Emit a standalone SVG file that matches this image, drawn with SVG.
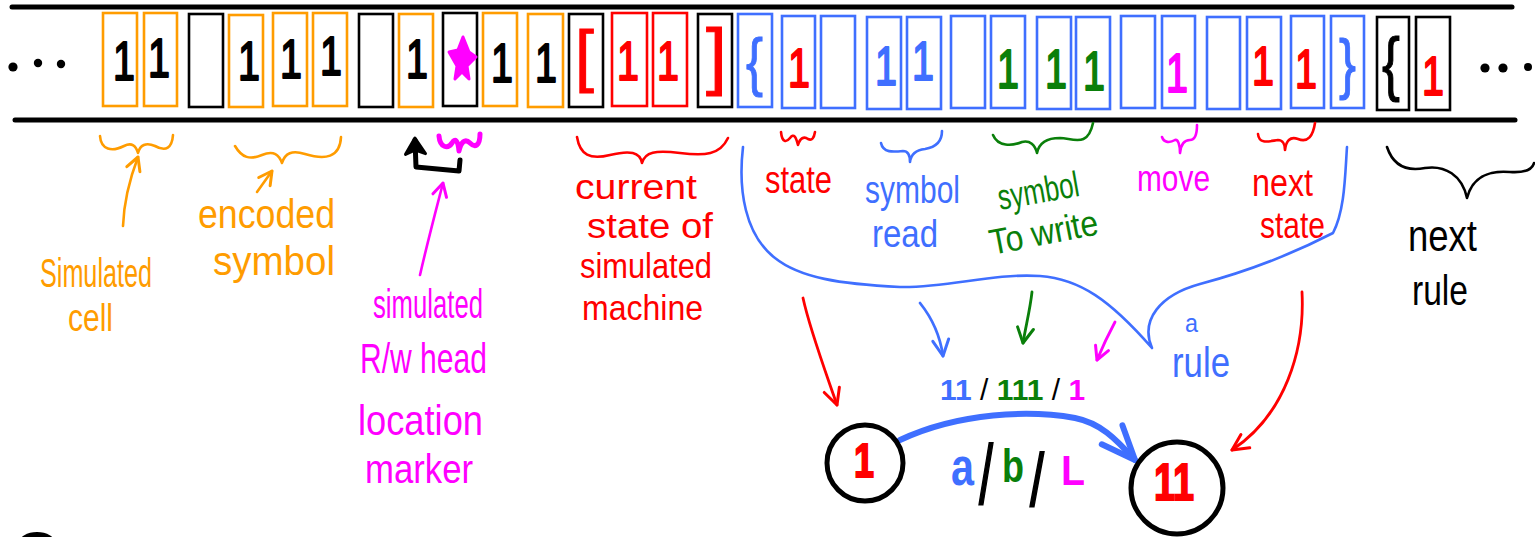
<svg xmlns="http://www.w3.org/2000/svg" width="1535" height="537" viewBox="0 0 1535 537">
<style>
.cell{fill:none;stroke-width:2.6}
.so{stroke:#ff9c00}.sk{stroke:#000}.sr{stroke:#ff0000}.sb{stroke:#3f6fff}.sg{stroke:#0a7f0a}.sm{stroke:#ff00ff}
.fo{fill:#ff9c00}.fk{fill:#000}.fr{fill:#ff0000}.fb{fill:#3f6fff}.fg{fill:#0a7f0a}.fm{fill:#ff00ff}
.dg{font-family:"Liberation Sans",Arial,sans-serif;font-size:56px;text-anchor:middle;stroke-width:2;stroke-linejoin:round}
.br{font-family:"Liberation Sans",Arial,sans-serif;stroke-width:1}
.hw{font-family:"Liberation Sans",Arial,sans-serif}
.ty{font-family:"Liberation Sans",Arial,sans-serif;font-weight:bold}
.ln{fill:none;stroke-linecap:round;stroke-linejoin:round}
</style>
<defs>
<marker id="ah-o" markerUnits="userSpaceOnUse" viewBox="-20 -20 40 40" markerWidth="40" markerHeight="40" refX="0" refY="0" orient="auto" overflow="visible"><path d="M-13,-7 L0,0 L-13,7" fill="none" stroke="#ff9c00" stroke-width="3" stroke-linecap="round" stroke-linejoin="round"/></marker>
<marker id="ah-m" markerUnits="userSpaceOnUse" viewBox="-20 -20 40 40" markerWidth="40" markerHeight="40" refX="0" refY="0" orient="auto" overflow="visible"><path d="M-13,-7 L0,0 L-13,7" fill="none" stroke="#ff00ff" stroke-width="3" stroke-linecap="round" stroke-linejoin="round"/></marker>
<marker id="ah-r" markerUnits="userSpaceOnUse" viewBox="-20 -20 40 40" markerWidth="40" markerHeight="40" refX="0" refY="0" orient="auto" overflow="visible"><path d="M-16,-8 L0,0 L-16,8" fill="none" stroke="#ff0000" stroke-width="3" stroke-linecap="round" stroke-linejoin="round"/></marker>
<marker id="ah-b" markerUnits="userSpaceOnUse" viewBox="-20 -20 40 40" markerWidth="40" markerHeight="40" refX="0" refY="0" orient="auto" overflow="visible"><path d="M-16,-8 L0,0 L-16,8" fill="none" stroke="#3f6fff" stroke-width="3" stroke-linecap="round" stroke-linejoin="round"/></marker>
<marker id="ah-g" markerUnits="userSpaceOnUse" viewBox="-20 -20 40 40" markerWidth="40" markerHeight="40" refX="0" refY="0" orient="auto" overflow="visible"><path d="M-15,-8 L0,0 L-15,8" fill="none" stroke="#0a7f0a" stroke-width="3" stroke-linecap="round" stroke-linejoin="round"/></marker>
<marker id="ah-bb" markerUnits="userSpaceOnUse" viewBox="-40 -40 80 80" markerWidth="80" markerHeight="80" refX="0" refY="0" orient="auto" overflow="visible"><path d="M-34,-14 L0,0 L-34,14" fill="none" stroke="#3f6fff" stroke-width="6" stroke-linecap="round" stroke-linejoin="round"/></marker>
<marker id="ah-k" markerUnits="userSpaceOnUse" viewBox="-20 -20 40 40" markerWidth="40" markerHeight="40" refX="0" refY="0" orient="auto" overflow="visible"><path d="M-14,-10 L2,0 L-14,10 L-10,0 Z" fill="#000" stroke="#000" stroke-width="3" stroke-linejoin="round"/></marker>
</defs>
<rect width="1535" height="537" fill="#fff"/>

<g id="tape">
<line x1="12" y1="7" x2="1512" y2="7" stroke="#000" stroke-width="5" stroke-linecap="round"/>
<line x1="15" y1="120" x2="1515" y2="120" stroke="#000" stroke-width="5" stroke-linecap="round"/>
<circle cx="13" cy="67" r="4.6" fill="#000"/><circle cx="38" cy="63" r="4.2" fill="#000"/><circle cx="61" cy="64" r="4.2" fill="#000"/>
<circle cx="1485" cy="68" r="4.6" fill="#000"/><circle cx="1503" cy="68" r="4.6" fill="#000"/><circle cx="1528" cy="67" r="4" fill="#000"/>
</g>

<g id="cell-01"><rect class="cell so" x="103" y="13" width="34" height="93"/><text class="dg fk sk" x="124" y="80" textLength="22" lengthAdjust="spacingAndGlyphs">1</text></g>
<g id="cell-02"><rect class="cell so" x="144" y="13" width="33" height="93"/><text class="dg fk sk" x="159" y="77" textLength="22" lengthAdjust="spacingAndGlyphs">1</text></g>
<g id="cell-03"><rect class="cell sk" x="189" y="14" width="34" height="93"/></g>
<g id="cell-04"><rect class="cell so" x="229" y="15" width="34" height="92"/><text class="dg fk sk" x="249" y="80" textLength="22" lengthAdjust="spacingAndGlyphs">1</text></g>
<g id="cell-05"><rect class="cell so" x="273" y="13" width="34" height="93"/><text class="dg fk sk" x="291" y="78" textLength="22" lengthAdjust="spacingAndGlyphs">1</text></g>
<g id="cell-06"><rect class="cell so" x="313" y="13" width="34" height="93"/><text class="dg fk sk" x="331" y="75" textLength="22" lengthAdjust="spacingAndGlyphs">1</text></g>
<g id="cell-07"><rect class="cell sk" x="359" y="14" width="34" height="93"/></g>
<g id="cell-08"><rect class="cell so" x="399" y="14" width="34" height="93"/><text class="dg fk sk" x="417" y="78" textLength="22" lengthAdjust="spacingAndGlyphs">1</text></g>
<g id="cell-09"><rect class="cell sk" x="443" y="13" width="34" height="93"/><polygon points="463,37 469,52 476,57 467,66 469,79 462,72 455,79 457,66 449,52 458,50" fill="#ff00ff" stroke="#ff00ff" stroke-width="3" stroke-linejoin="round"/></g>
<g id="cell-10"><rect class="cell so" x="483" y="13" width="34" height="93"/><text class="dg fk sk" x="502" y="82" textLength="22" lengthAdjust="spacingAndGlyphs">1</text></g>
<g id="cell-11"><rect class="cell so" x="528" y="14" width="35" height="93"/><text class="dg fk sk" x="546" y="82" textLength="22" lengthAdjust="spacingAndGlyphs">1</text></g>
<g id="cell-12"><rect class="cell sk" x="569" y="14" width="34" height="93"/><text class="br fr sr" x="575" y="79" font-size="68">[</text></g>
<g id="cell-13"><rect class="cell sr" x="612" y="13" width="35" height="93"/><text class="dg fr sr" x="628" y="80" textLength="22" lengthAdjust="spacingAndGlyphs">1</text></g>
<g id="cell-14"><rect class="cell sr" x="653" y="13" width="34" height="93"/><text class="dg fr sr" x="668" y="80" textLength="22" lengthAdjust="spacingAndGlyphs">1</text></g>
<g id="cell-15"><rect class="cell sk" x="698" y="14" width="34" height="93"/><text class="br fr sr" x="706" y="81" font-size="75">]</text></g>
<g id="cell-16"><rect class="cell sb" x="738" y="14" width="34" height="93"/><text class="br fb sb" x="746" y="84" font-size="65" textLength="17" lengthAdjust="spacingAndGlyphs">{</text></g>
<g id="cell-17"><rect class="cell sb" x="782" y="16" width="33" height="92"/><text class="dg fr sr" x="799" y="87" textLength="22" lengthAdjust="spacingAndGlyphs">1</text></g>
<g id="cell-18"><rect class="cell sb" x="821" y="16" width="34" height="92"/></g>
<g id="cell-19"><rect class="cell sb" x="867" y="17" width="34" height="92"/><text class="dg fb sb" x="886" y="85" textLength="22" lengthAdjust="spacingAndGlyphs">1</text></g>
<g id="cell-20"><rect class="cell sb" x="907" y="17" width="34" height="92"/><text class="dg fb sb" x="923" y="80" textLength="22" lengthAdjust="spacingAndGlyphs">1</text></g>
<g id="cell-21"><rect class="cell sb" x="951" y="16" width="34" height="92"/></g>
<g id="cell-22"><rect class="cell sb" x="991" y="16" width="34" height="92"/><text class="dg fg sg" x="1008" y="88" textLength="22" lengthAdjust="spacingAndGlyphs">1</text></g>
<g id="cell-23"><rect class="cell sb" x="1037" y="17" width="34" height="92"/><text class="dg fg sg" x="1056" y="88" textLength="22" lengthAdjust="spacingAndGlyphs">1</text></g>
<g id="cell-24"><rect class="cell sb" x="1076" y="17" width="34" height="92"/><text class="dg fg sg" x="1094" y="90" textLength="22" lengthAdjust="spacingAndGlyphs">1</text></g>
<g id="cell-25"><rect class="cell sb" x="1121" y="16" width="34" height="92"/></g>
<g id="cell-26"><rect class="cell sb" x="1162" y="16" width="33" height="92"/><text class="dg fm sm" x="1177" y="92" textLength="22" lengthAdjust="spacingAndGlyphs">1</text></g>
<g id="cell-27"><rect class="cell sb" x="1207" y="17" width="33" height="92"/></g>
<g id="cell-28"><rect class="cell sb" x="1247" y="17" width="34" height="92"/><text class="dg fr sr" x="1263" y="85" textLength="22" lengthAdjust="spacingAndGlyphs">1</text></g>
<g id="cell-29"><rect class="cell sb" x="1291" y="16" width="33" height="92"/><text class="dg fr sr" x="1306" y="88" textLength="22" lengthAdjust="spacingAndGlyphs">1</text></g>
<g id="cell-30"><rect class="cell sb" x="1331" y="16" width="33" height="92"/><text class="br fb sb" x="1339" y="86" font-size="66" textLength="17" lengthAdjust="spacingAndGlyphs">}</text></g>
<g id="cell-31"><rect class="cell sk" x="1377" y="17" width="32" height="93"/><text class="br fk sk" x="1382" y="87" font-size="71" textLength="18" lengthAdjust="spacingAndGlyphs">{</text></g>
<g id="cell-32"><rect class="cell sk" x="1416" y="17" width="34" height="93"/><text class="dg fr sr" x="1433" y="95" textLength="22" lengthAdjust="spacingAndGlyphs">1</text></g>

<g id="connectors">
<path class="ln so" stroke-width="2.6" d="M100,136 C101,150 112,152 124,146 C132,142 136,146 138,153 C140,145 146,142 155,146 C166,152 172,148 173,135"/>
<path class="ln so" stroke-width="2.6" d="M235,146 C242,158 250,160 262,155 C274,150 279,155 282,163 C285,153 292,150 305,154 C325,160 340,158 341,137"/>
<path class="ln so" stroke-width="2.6" d="M123,226 C124,200 130,178 138,157" marker-end="url(#ah-o)"/>
<path class="ln so" stroke-width="2.6" d="M257,192 L272,171" marker-end="url(#ah-o)"/>
<path class="ln sm" stroke-width="5" d="M439,136 C440,148 448,149 452,143 C455,138 458,140 459,151 C461,142 465,138 470,143 C475,148 480,146 480,134"/>
<path class="ln sm" stroke-width="2.6" d="M420,275 C428,240 436,210 443,183" marker-end="url(#ah-m)"/>
<path class="ln sk" stroke-width="5" d="M460,160 L459,171 L416,167 L415,140" marker-end="url(#ah-k)"/>
<path class="ln sr" stroke-width="2.6" d="M577,137 C580,155 590,160 610,155 C630,150 640,152 642,163 C645,152 655,150 680,153 C705,156 720,155 728,138"/>
<path class="ln sr" stroke-width="2.6" d="M781,132 C782,142 786,143 790,138 C794,133 796,137 798,145 C800,138 804,136 808,139 C812,141 814,138 815,132"/>
<path class="ln sb" stroke-width="2.6" d="M881,143 C883,153 893,152 903,151 C908,151 910,155 910,162 C911,154 916,150 925,149 C937,147 942,140 942,131"/>
<path class="ln sg" stroke-width="2.6" d="M993,135 C998,147 1012,146 1022,142 C1030,140 1035,145 1037,153 C1039,143 1046,138 1060,138 C1075,139 1088,147 1093,123"/>
<path class="ln sm" stroke-width="2.6" d="M1162,137 C1164,143 1170,143 1175,140 C1178,139 1180,145 1180,153 C1181,143 1185,140 1190,140 C1196,140 1197,133 1197,125"/>
<path class="ln sr" stroke-width="2.6" d="M1258,134 C1259,145 1270,141 1278,140 C1283,140 1285,145 1285,150 C1286,141 1290,136 1298,139 C1308,143 1313,136 1315,123"/>
<path class="ln sk" stroke-width="2.6" d="M1387,147 C1393,165 1405,172 1425,168 C1445,165 1462,175 1467,198 C1472,178 1488,170 1510,172 C1525,173 1532,170 1534,163"/>
<path class="ln sb" stroke-width="2.6" d="M743,147 C738,190 745,235 775,258 C800,278 840,284 900,287 C950,288 990,273 1040,276 C1080,279 1110,300 1152,348 C1140,320 1160,295 1200,284 C1260,268 1300,250 1333,233 C1345,210 1345,175 1347,147"/>
<path class="ln sr" stroke-width="2.8" d="M803,298 C810,330 825,370 837,405" marker-end="url(#ah-r)"/>
<path class="ln sb" stroke-width="2.8" d="M920,303 C932,318 940,335 943,356" marker-end="url(#ah-b)"/>
<path class="ln sg" stroke-width="2.8" d="M1032,292 C1030,310 1026,325 1023,343" marker-end="url(#ah-g)"/>
<path class="ln sm" stroke-width="2.8" d="M1115,322 C1108,335 1102,348 1097,360" marker-end="url(#ah-m)"/>
<path class="ln sr" stroke-width="2.8" d="M1302,292 C1305,350 1285,415 1232,450" marker-end="url(#ah-r)"/>
<path class="ln sb" stroke-width="6" d="M900,440 C960,412 1030,410 1075,418 C1100,423 1115,438 1135,460" marker-end="url(#ah-bb)"/>
</g>

<g id="label-simulated-cell" class="hw fo">
<text x="40" y="287" font-size="40" textLength="112" lengthAdjust="spacingAndGlyphs">Simulated</text>
<text x="68" y="331" font-size="38" textLength="45" lengthAdjust="spacingAndGlyphs">cell</text>
</g>
<g id="label-encoded-symbol" class="hw fo">
<text x="198" y="228" font-size="40" textLength="137" lengthAdjust="spacingAndGlyphs">encoded</text>
<text x="213" y="275" font-size="40" textLength="122" lengthAdjust="spacingAndGlyphs">symbol</text>
</g>
<g id="label-head-marker" class="hw fm">
<text x="373" y="318" font-size="40" textLength="110" lengthAdjust="spacingAndGlyphs">simulated</text>
<text x="360" y="373" font-size="42" textLength="127" lengthAdjust="spacingAndGlyphs">R/w head</text>
<text x="358" y="435" font-size="42" textLength="125" lengthAdjust="spacingAndGlyphs">location</text>
<text x="365" y="483" font-size="40" textLength="108" lengthAdjust="spacingAndGlyphs">marker</text>
</g>
<g id="label-current-state" class="hw fr">
<text x="575" y="199" font-size="35" textLength="122" lengthAdjust="spacingAndGlyphs">current</text>
<text x="587" y="238" font-size="35" textLength="126" lengthAdjust="spacingAndGlyphs">state of</text>
<text x="580" y="278" font-size="35" textLength="132" lengthAdjust="spacingAndGlyphs">simulated</text>
<text x="582" y="320" font-size="35" textLength="121" lengthAdjust="spacingAndGlyphs">machine</text>
</g>
<g id="label-state" class="hw fr"><text x="765" y="193" font-size="38" textLength="67" lengthAdjust="spacingAndGlyphs">state</text></g>
<g id="label-symbol-read" class="hw fb">
<text x="865" y="203" font-size="38" textLength="95" lengthAdjust="spacingAndGlyphs">symbol</text>
<text x="872" y="247" font-size="38" textLength="66" lengthAdjust="spacingAndGlyphs">read</text>
</g>
<g id="label-symbol-write" class="hw fg">
<text x="1000" y="210" font-size="36" textLength="82" lengthAdjust="spacingAndGlyphs" transform="rotate(-10 1000 210)">symbol</text>
<text x="992" y="255" font-size="36" textLength="110" lengthAdjust="spacingAndGlyphs" transform="rotate(-11 992 255)">To write</text>
</g>
<g id="label-move" class="hw fm"><text x="1137" y="191" font-size="36" textLength="73" lengthAdjust="spacingAndGlyphs">move</text></g>
<g id="label-next-state" class="hw fr">
<text x="1252" y="196" font-size="38" textLength="61" lengthAdjust="spacingAndGlyphs">next</text>
<text x="1260" y="238" font-size="36" textLength="65" lengthAdjust="spacingAndGlyphs">state</text>
</g>
<g id="label-a-rule" class="hw fb">
<text x="1185" y="332" font-size="26" textLength="13" lengthAdjust="spacingAndGlyphs">a</text>
<text x="1172" y="377" font-size="42" textLength="58" lengthAdjust="spacingAndGlyphs">rule</text>
</g>
<g id="label-next-rule" class="hw fk">
<text x="1408" y="251" font-size="44" textLength="69" lengthAdjust="spacingAndGlyphs">next</text>
<text x="1412" y="305" font-size="42" textLength="56" lengthAdjust="spacingAndGlyphs">rule</text>
</g>

<g id="label-rule-code" class="ty" font-size="30">
<text x="940" y="400"><tspan class="fb">11</tspan><tspan class="fk" font-weight="normal"> / </tspan><tspan class="fg">111</tspan><tspan class="fk" font-weight="normal"> / </tspan><tspan class="fm">1</tspan></text>
</g>

<g id="state-1">
<circle cx="865" cy="463" r="38" fill="none" stroke="#000" stroke-width="5"/>
<text class="ty fr" x="864" y="477" font-size="48" text-anchor="middle" font-weight="normal" stroke="#ff0000" stroke-width="2" textLength="20" lengthAdjust="spacingAndGlyphs">1</text>
</g>
<g id="state-11">
<circle cx="1177" cy="488" r="46" fill="none" stroke="#000" stroke-width="5"/>
<text class="ty fr" x="1154" y="500" font-size="52" font-weight="normal" stroke="#ff0000" stroke-width="2" textLength="40" lengthAdjust="spacingAndGlyphs">11</text>
</g>

<g id="label-abL" class="ty">
<text class="fb" x="951" y="485" font-size="54" textLength="23" lengthAdjust="spacingAndGlyphs">a</text>
<text class="fk" x="986" y="504" font-size="83" font-weight="normal" text-anchor="middle" stroke="#000" stroke-width="2" textLength="14" lengthAdjust="spacingAndGlyphs">/</text>
<text class="fg" x="1013" y="482" font-size="46" text-anchor="middle" textLength="22" lengthAdjust="spacingAndGlyphs">b</text>
<text class="fk" x="1037" y="506" font-size="74" font-weight="normal" text-anchor="middle" stroke="#000" stroke-width="2" textLength="14" lengthAdjust="spacingAndGlyphs">/</text>
<text class="fm" x="1073" y="485" font-size="42" text-anchor="middle" textLength="24" lengthAdjust="spacingAndGlyphs">L</text>
</g>

<ellipse cx="37" cy="543" rx="18" ry="11" fill="#000"/>
</svg>
